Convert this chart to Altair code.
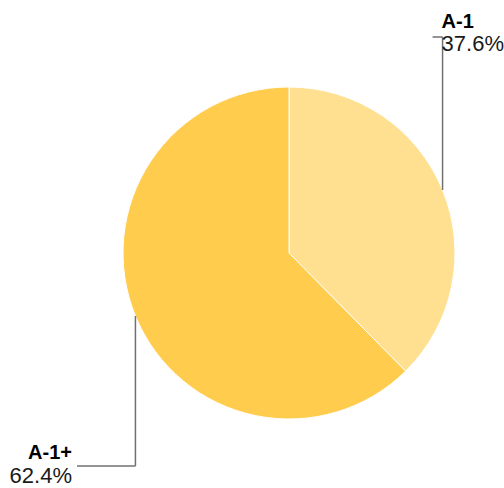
import altair as alt
import pandas as pd

labels = ["A-1", "A-1+"]
values = [37.6, 62.4]
pct_text = ["37.6%", "62.4%"]
colors = ["#FFE091", "#FFCC4D"]

df = pd.DataFrame({"label": labels, "value": values, "pct": pct_text, "idx": list(range(len(labels)))})

CX, CY, R = 289, 253, 166
FONT = "Liberation Sans"

base = alt.Chart(df).transform_joinaggregate(
    total="sum(value)"
).transform_window(
    cum="sum(value)", sort=[alt.SortField("idx")], frame=[None, 0]
).transform_calculate(
    mid="(datum.cum - datum.value/2) / datum.total * 2 * PI",
).transform_calculate(
    px=f"{CX} + {R} * sin(datum.mid)",
    py=f"{CY} - {R} * cos(datum.mid)",
    side="sin(datum.mid) > 0 ? 'right' : 'left'",
).transform_calculate(
    ly="datum.side == 'right' ? 37 : 466",
    lx2="datum.side == 'right' ? datum.px - 10 : 77",
)

arc = alt.Chart(df).mark_arc(outerRadius=R, stroke="white", strokeWidth=1).encode(
    theta=alt.Theta("value:Q", stack=True),
    color=alt.Color("label:N", scale=alt.Scale(domain=labels, range=colors), legend=None),
    order=alt.Order("idx:Q"),
    x=alt.value(CX),
    y=alt.value(CY),
)

vline = base.mark_rule(color="#707070", strokeWidth=1.5).encode(
    x=alt.X("px:Q", scale=None, axis=None),
    y=alt.Y("py:Q", scale=None, axis=None),
    y2="ly:Q",
)
hline = base.mark_rule(color="#707070", strokeWidth=1.5).encode(
    x=alt.X("px:Q", scale=None, axis=None),
    x2="lx2:Q",
    y=alt.Y("ly:Q", scale=None, axis=None),
)

def texts(side, align, tx_expr, dy_bold, dy_pct):
    b = base.transform_filter(f"datum.side == '{side}'").transform_calculate(
        tx=tx_expr, by=f"datum.ly + {dy_bold}", pyy=f"datum.ly + {dy_pct}"
    )
    t1 = b.mark_text(align=align, baseline="alphabetic", font=FONT, fontSize=20,
                     fontWeight="bold", color="#000000").encode(
        x=alt.X("tx:Q", scale=None, axis=None),
        y=alt.Y("by:Q", scale=None, axis=None),
        text="label:N",
    )
    t2 = b.mark_text(align=align, baseline="alphabetic", font=FONT, fontSize=22,
                     color="#1a1a1a").encode(
        x=alt.X("tx:Q", scale=None, axis=None),
        y=alt.Y("pyy:Q", scale=None, axis=None),
        text="pct:N",
    )
    return [t1, t2]

layers = [arc, vline, hline] + texts("right", "left", "datum.px - 1", -9, 14) + texts("left", "right", "72", -7, 17)

chart = alt.layer(*layers).properties(
    width=504, height=488, padding=0,
    autosize=alt.AutoSizeParams(type="none"),
).configure_view(stroke=None)

chart.save("out.html", embed_options={"renderer": "svg", "actions": False})
